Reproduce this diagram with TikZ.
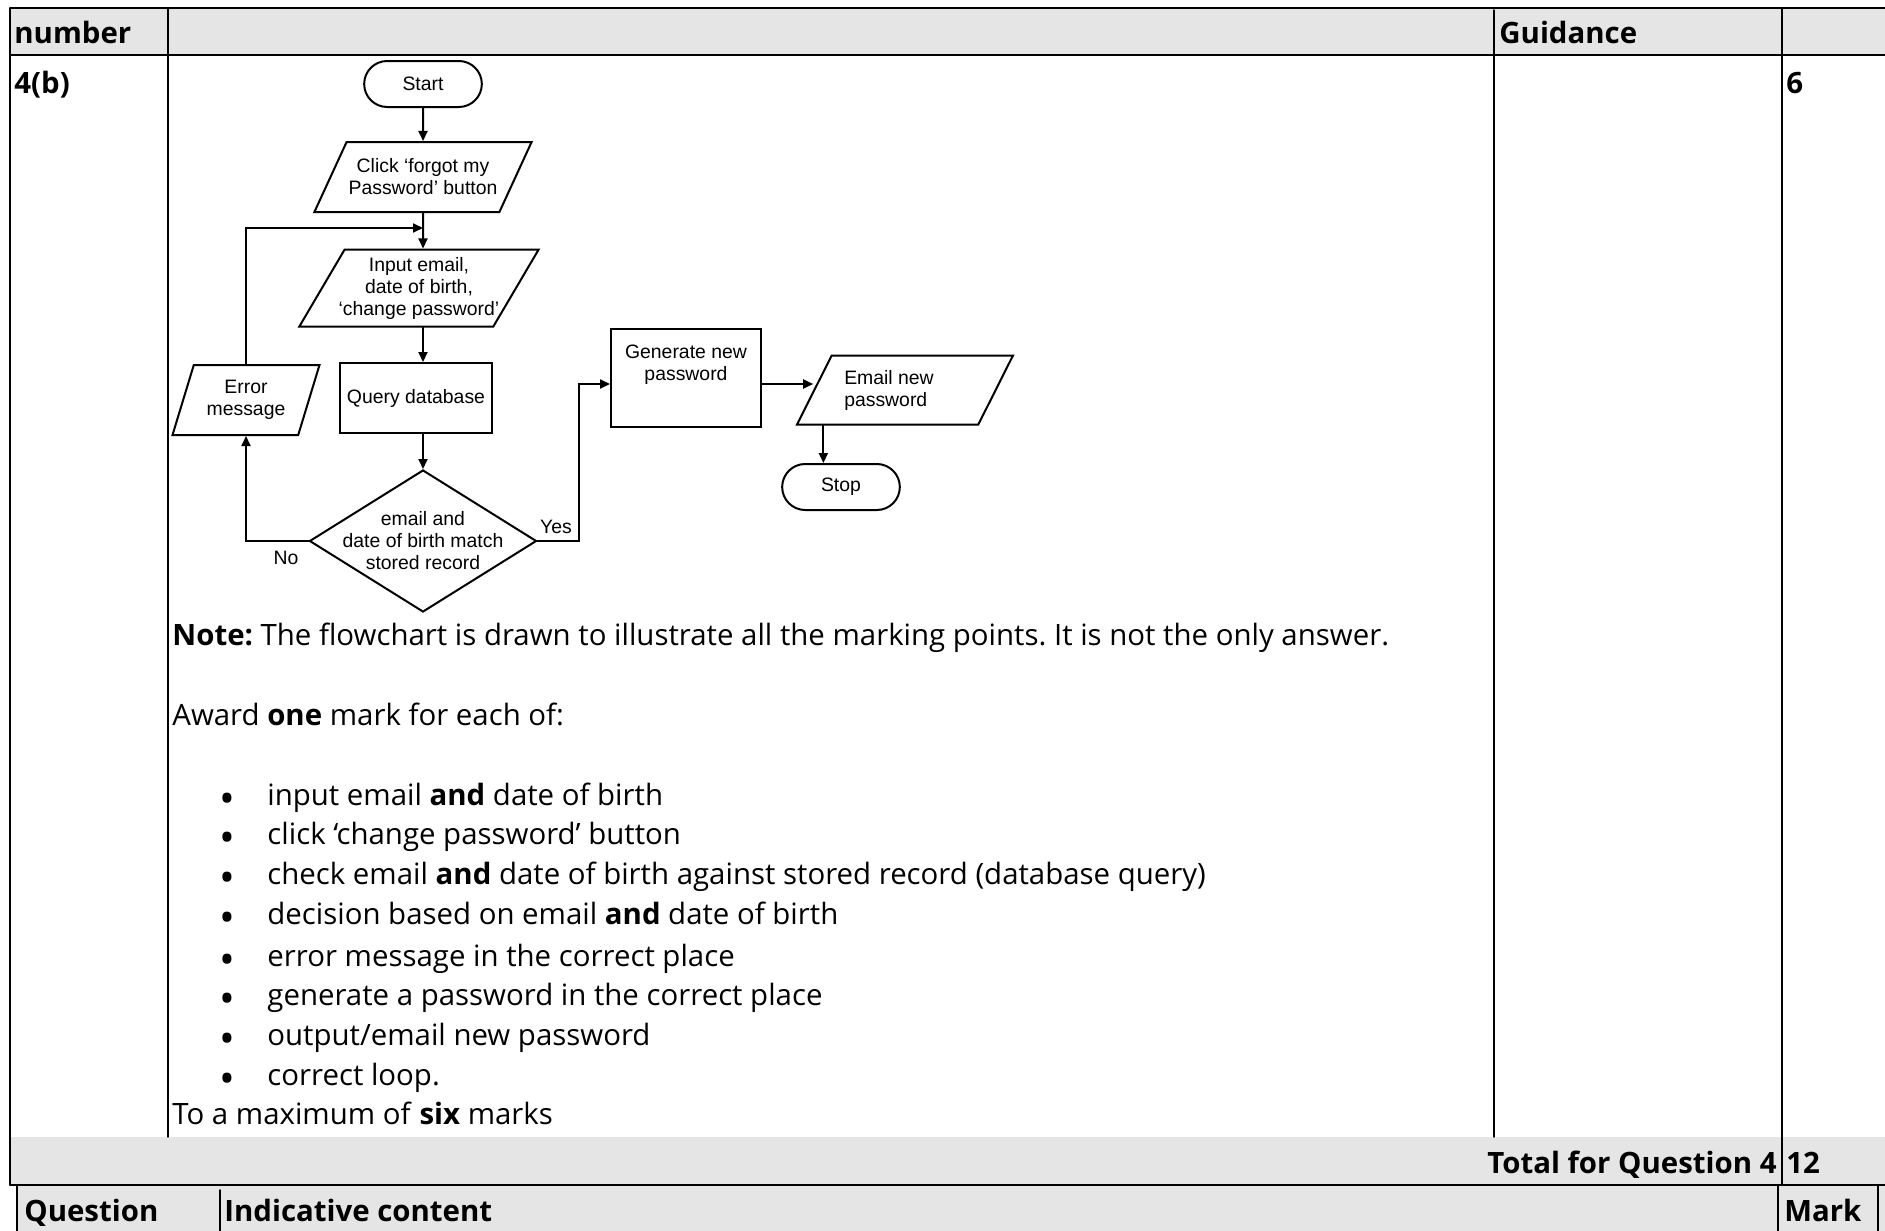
\documentclass[tikz,border=0pt]{standalone}
\usepackage{fontspec}
\setmainfont{Open Sans}
\newfontfamily\chartfont{Liberation Sans}
\usepackage{tikz}
\usetikzlibrary{arrows.meta,shapes.geometric,shapes.misc}
\usepackage{xcolor}
\definecolor{headgray}{gray}{0.9}
\frenchspacing

\begin{document}
\begin{tikzpicture}[x=0.5pt,y=-0.5pt,>={Triangle[length=5pt,width=4.5pt]},line cap=round,
  chart/.style={font=\chartfont\fontsize{9.7}{11}\selectfont},
  term/.style={chart,draw,line width=1pt,rounded rectangle,minimum width=65.5pt,minimum height=23pt},
  io/.style={chart,draw,line width=1pt,trapezium,trapezium stretches body,align=center,inner xsep=1pt},
  proc/.style={chart,draw,line width=1pt,rectangle,align=center},
  decide/.style={chart,draw,line width=1pt,diamond,align=center,inner sep=-10pt,minimum width=113.5pt,minimum height=71pt},
  flow/.style={line width=1pt,->},
  rule/.style={line width=0.7pt},
  cell/.style={font=\fontsize{14.7}{18}\selectfont,anchor=base west,inner sep=0pt},
  dotcell/.style={cell,font=\fontsize{21}{21}\selectfont},
  headcell/.style={cell,font=\bfseries\fontsize{14.7}{18}\selectfont}]
\useasboundingbox (0,0) rectangle (1885,1231);
\fill[headgray] (10,8) rectangle (1885,55);
\fill[headgray] (10,1137) rectangle (1885,1185);
\fill[headgray] (17,1185) rectangle (1885,1231);
\draw[rule] (10,8) -- (1885,8);
\draw[rule] (10,55) -- (1885,55);
\draw[rule] (10,8) -- (10,1185);
\draw[rule] (168,8) -- (168,1137);
\draw[rule] (1494,10) -- (1494,1137);
\draw[rule] (1782,8) -- (1782,1185);
\draw[rule] (10,1185) -- (1885,1185);
\draw[rule] (17,1185) -- (17,1231);
\draw[rule] (220,1190) -- (220,1231);
\draw[rule] (1778,1185) -- (1778,1231);
\draw[rule] (1878,1185) -- (1878,1231);

\node[headcell] (hnum) at (14,43) {number};
\node[headcell] (hguide) at (1499,43) {Guidance};
\node[headcell] (qnum) at (14,93) {4(b)};
\node[headcell] (qmark) at (1786,93) {6};

\node[term] (start) at (423,84) {Start};
\node[io,trapezium left angle=57,trapezium right angle=123,minimum width=107.5pt,minimum height=35pt] (click) at (423,177) {Click ‘forgot my\\Password’ button};
\node[io,trapezium left angle=59,trapezium right angle=121,minimum width=112pt,minimum height=38.5pt,inner xsep=-3pt] (input) at (419,288) {Input email,\\date of birth,\\‘change password’};
\node[proc,minimum width=75.5pt,minimum height=35pt] (query) at (416,398) {Query database};
\node[decide] (dec) at (423,541) {email and\\date of birth match\\stored record};
\node[io,trapezium left angle=68,trapezium right angle=112,minimum width=73.5pt,minimum height=35pt] (err) at (246,400) {Error\\message};
\node[proc,minimum width=75pt,minimum height=49pt] (gen) at (686,378) {};
\node[chart,align=center,anchor=north,inner sep=0pt] (gentext) at ([yshift=-8.5pt]gen.north) {Generate new\\password};
\node[io,trapezium left angle=57,trapezium right angle=123,minimum width=108pt,minimum height=34.5pt,align=left] (email) at (905,390) {Email new\hspace*{16pt}\\password};
\node[term] (stop) at (841,487) {Stop};
\coordinate (loopin) at (423,228);
\coordinate (genin) at ([yshift=-3pt]gen.west);
\coordinate (genout) at ([yshift=-3pt]gen.east);
\path (email.bottom left corner) ++(28,0) coordinate (drop);

\draw[flow] (start) -- (click);
\draw[flow] (click) -- (loopin |- input.north);
\draw[flow] (loopin |- input.south) -- (loopin |- query.north);
\draw[flow] (loopin |- query.south) -- (dec);
\draw[flow] (err) |- (loopin);
\draw[flow] (dec.west) -| (err) node[pos=0.18,below=1pt,chart]{No};
\draw[flow] (dec.east) -- ++(41,0) node[pos=0.45,above=0pt,chart]{Yes} |- (genin);
\draw[flow] (genout) -- (genout -| email.west);
\draw[flow] (drop) -- (drop |- stop.north);

\node[cell] (note) at (172,645) {\textbf{Note:} The flowchart is drawn to illustrate all the marking points. It is not the only answer.};
\node[cell] (award) at (172,725) {Award \textbf{one} mark for each of:};
\node[dotcell] (dot1) at (219,813) {\textbullet};
\node[cell] (pt1) at (267,805) {input email \textbf{and} date of birth};
\node[dotcell] (dot2) at (219,852) {\textbullet};
\node[cell] (pt2) at (267,844) {click ‘change password’ button};
\node[dotcell] (dot3) at (219,892) {\textbullet};
\node[cell] (pt3) at (267,884) {check email \textbf{and} date of birth against stored record (database query)};
\node[dotcell] (dot4) at (219,932) {\textbullet};
\node[cell] (pt4) at (267,924) {decision based on email \textbf{and} date of birth};
\node[dotcell] (dot5) at (219,974) {\textbullet};
\node[cell] (pt5) at (267,966) {error message in the correct place};
\node[dotcell] (dot6) at (219,1013) {\textbullet};
\node[cell] (pt6) at (267,1005) {generate a password in the correct place};
\node[dotcell] (dot7) at (219,1053) {\textbullet};
\node[cell] (pt7) at (267,1045) {output/email new password};
\node[dotcell] (dot8) at (219,1093) {\textbullet};
\node[cell] (pt8) at (267,1085) {correct loop.};
\node[cell] (maxnote) at (172,1124) {To a maximum of \textbf{six} marks};

\node[headcell,anchor=base east] (total) at (1777,1173) {Total for Question 4};
\node[headcell] (totmark) at (1786,1173) {12};
\node[headcell] (hques) at (24,1221) {Question};
\node[headcell] (hcontent) at (224,1221) {Indicative content};
\node[headcell] (hmark) at (1784,1221) {Mark};
\end{tikzpicture}
\end{document}
